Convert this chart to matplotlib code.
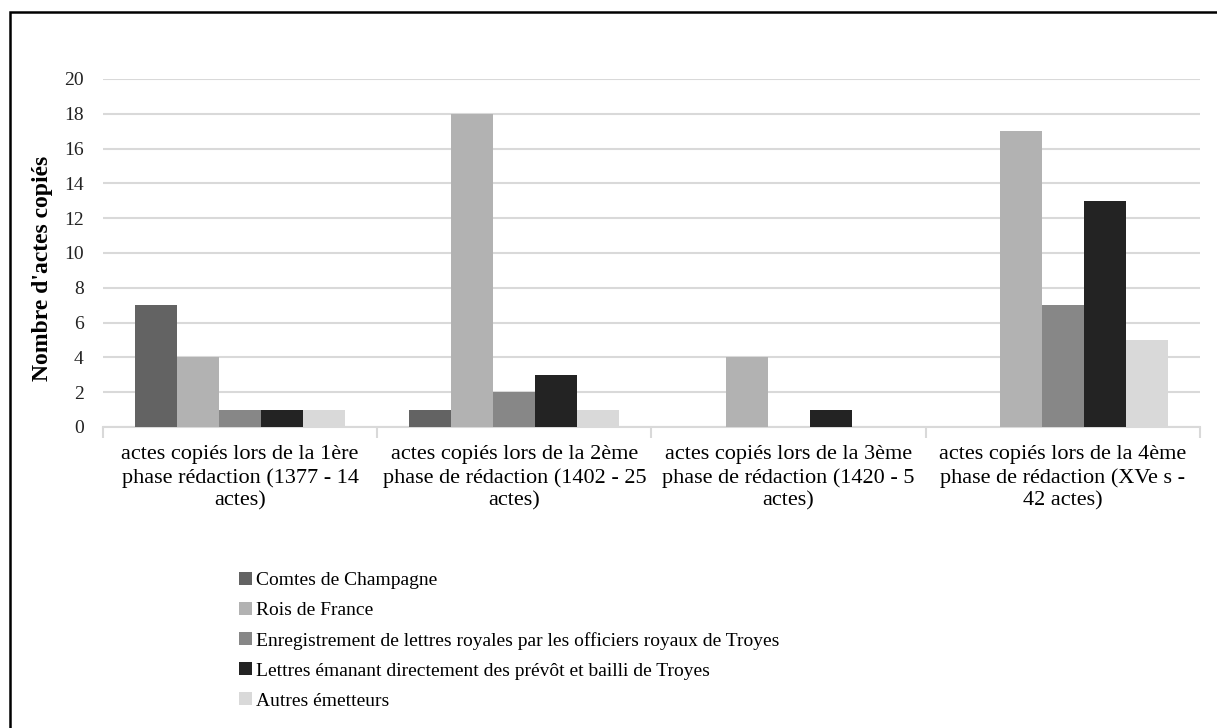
import matplotlib.pyplot as plt
import numpy as np
from matplotlib.patches import Rectangle

plt.rcParams['font.family'] = ['Liberation Serif', 'DejaVu Serif']

categories = [
    "actes copiés lors de la 1ère\nphase rédaction (1377 - 14\nactes)",
    "actes copiés lors de la 2ème\nphase de rédaction (1402 - 25\nactes)",
    "actes copiés lors de la 3ème\nphase de rédaction (1420 - 5\nactes)",
    "actes copiés lors de la 4ème\nphase de rédaction (XVe s -\n42 actes)",
]
series = [
    "Comtes de Champagne",
    "Rois de France",
    "Enregistrement de lettres royales par les officiers royaux de Troyes",
    "Lettres émanant directement des prévôt et bailli de Troyes",
    "Autres émetteurs",
]
comtes = [7, 1, 0, 0]
rois = [4, 18, 4, 17]
enregistrement = [1, 2, 0, 7]
lettres = [1, 3, 1, 13]
autres = [1, 1, 0, 5]
values = [comtes, rois, enregistrement, lettres, autres]
colors = ['#636363', '#b2b2b2', '#878787', '#232323', '#d9d9d9']

fig = plt.figure(figsize=(12.17, 7.28), dpi=100)
ax = fig.add_axes([0.0846, 0.4135, 0.9014, 0.478])

x = np.arange(len(categories))
w = 0.153
for i, (vals, c, name) in enumerate(zip(values, colors, series)):
    ax.bar(x + (i - 2) * w, vals, w, color=c, label=name, zorder=3)

ax.set_xlim(-0.5, 3.5)
ax.set_ylim(0, 20)
ax.set_yticks(range(0, 21, 2))
ax.yaxis.grid(True, color='#d9d9d9', linewidth=1.5, zorder=0)
for s in ['top', 'right', 'left']:
    ax.spines[s].set_visible(False)
ax.spines['bottom'].set_color('#d9d9d9')
ax.spines['bottom'].set_linewidth(1.5)
ax.tick_params(axis='y', length=0, labelsize=14, colors='#222222', pad=14)
ax.set_xticks(x)
ax.set_xticklabels(categories, fontsize=16, linespacing=1.26)
ax.tick_params(axis='x', length=0, pad=13)
ax.set_xticks(np.arange(-0.5, 4, 1), minor=True)
ax.tick_params(axis='x', which='minor', length=8, width=1.5, color='#d9d9d9')
ax.set_ylabel("Nombre d'actes copiés", fontsize=17, fontweight='bold')
ax.yaxis.set_label_coords(-0.0455, 0.457)

fig.legend(loc='upper left', bbox_to_anchor=(0.19, 0.225), frameon=False,
           fontsize=14, handlelength=0.65, handleheight=0.65, handletextpad=0.2,
           labelspacing=0.65, borderaxespad=0)

fig.patches.append(Rectangle((10 / 1217, -0.1), 1.2, 1 - 12 / 728 + 0.1,
                             transform=fig.transFigure, fill=False,
                             edgecolor='black', linewidth=1.8))

fig.savefig('out.png', dpi=100)
